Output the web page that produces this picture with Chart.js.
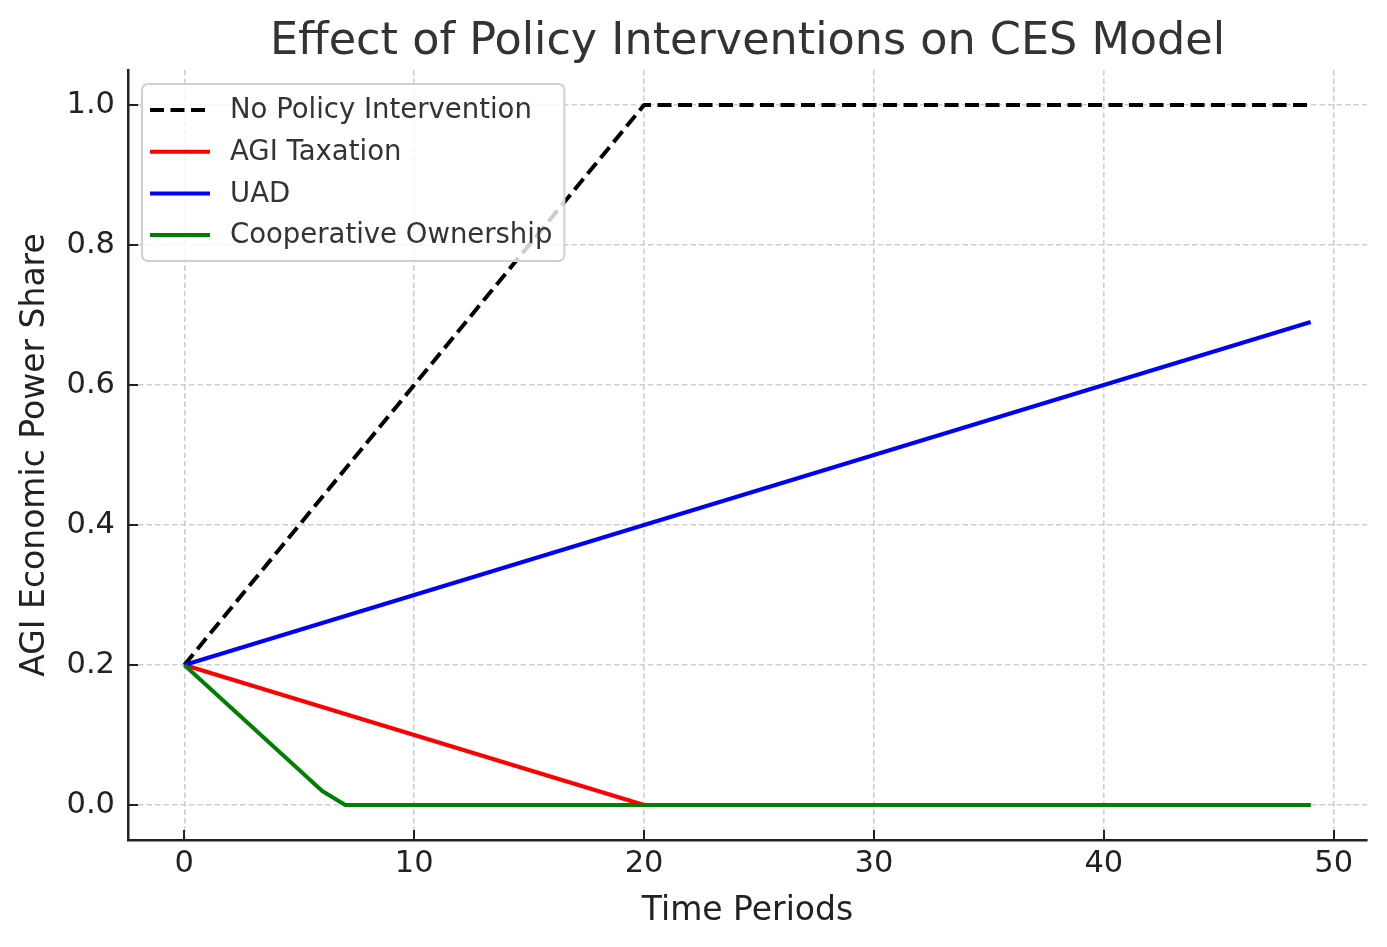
<!DOCTYPE html>
<html>
<head>
<meta charset="utf-8">
<title>Effect of Policy Interventions on CES Model</title>
<script src="https://cdn.jsdelivr.net/npm/chart.js@4.4.1/dist/chart.umd.min.js"></script>
<style>
  html, body { margin: 0; padding: 0; background: #fff; }
  canvas { display: block; }
</style>
</head>
<body>
<canvas id="cesChart" width="1387" height="947" style="width:1387px;height:947px"></canvas>
<script>
/*
-------------------------------------
/// data
-------------------------------------
*/
const periods = [0, 1, 2, 3, 4, 5, 6, 7, 8, 9, 10, 11, 12, 13, 14, 15, 16, 17, 18, 19,
  20, 21, 22, 23, 24, 25, 26, 27, 28, 29, 30, 31, 32, 33, 34, 35, 36, 37, 38, 39,
  40, 41, 42, 43, 44, 45, 46, 47, 48, 49];

const noPolicy = [0.20, 0.24, 0.28, 0.32, 0.36, 0.40, 0.44, 0.48, 0.52, 0.56,
  0.60, 0.64, 0.68, 0.72, 0.76, 0.80, 0.84, 0.88, 0.92, 0.96,
  1.00, 1.00, 1.00, 1.00, 1.00, 1.00, 1.00, 1.00, 1.00, 1.00,
  1.00, 1.00, 1.00, 1.00, 1.00, 1.00, 1.00, 1.00, 1.00, 1.00,
  1.00, 1.00, 1.00, 1.00, 1.00, 1.00, 1.00, 1.00, 1.00, 1.00];

const agiTaxation = [0.20, 0.19, 0.18, 0.17, 0.16, 0.15, 0.14, 0.13, 0.12, 0.11,
  0.10, 0.09, 0.08, 0.07, 0.06, 0.05, 0.04, 0.03, 0.02, 0.01,
  0, 0, 0, 0, 0, 0, 0, 0, 0, 0,
  0, 0, 0, 0, 0, 0, 0, 0, 0, 0,
  0, 0, 0, 0, 0, 0, 0, 0, 0, 0];

const uad = [0.20, 0.21, 0.22, 0.23, 0.24, 0.25, 0.26, 0.27, 0.28, 0.29,
  0.30, 0.31, 0.32, 0.33, 0.34, 0.35, 0.36, 0.37, 0.38, 0.39,
  0.40, 0.41, 0.42, 0.43, 0.44, 0.45, 0.46, 0.47, 0.48, 0.49,
  0.50, 0.51, 0.52, 0.53, 0.54, 0.55, 0.56, 0.57, 0.58, 0.59,
  0.60, 0.61, 0.62, 0.63, 0.64, 0.65, 0.66, 0.67, 0.68, 0.69];

const coopOwnership = [0.20, 0.17, 0.14, 0.11, 0.08, 0.05, 0.02, 0, 0, 0,
  0, 0, 0, 0, 0, 0, 0, 0, 0, 0,
  0, 0, 0, 0, 0, 0, 0, 0, 0, 0,
  0, 0, 0, 0, 0, 0, 0, 0, 0, 0,
  0, 0, 0, 0, 0, 0, 0, 0, 0, 0];

const xTicks = [0, 10, 20, 30, 40, 50];
const yTicks = [0, 0.2, 0.4, 0.6, 0.8, 1.0];

const seriesNames = ['No Policy Intervention', 'AGI Taxation', 'UAD', 'Cooperative Ownership'];
const chartTitle = 'Effect of Policy Interventions on CES Model';

/*
-------------------------------------
/// helpers
-------------------------------------
*/
const FONT = "'DejaVu Sans', sans-serif";

function toPoints(values){
  return periods.map((p, i) => ({ x: p, y: values[i] }));
}

function makeSeries(label, values, color, dash, order){
  return {
    label: label,
    data: toPoints(values),
    borderColor: color,
    backgroundColor: color,
    borderWidth: 4,
    borderDash: dash,
    borderCapStyle: 'butt',
    borderJoinStyle: 'round',
    pointRadius: 0,
    tension: 0,
    fill: false,
    order: order
  };
}

/*
-------------------------------------
/// title centred over the plot area
-------------------------------------
*/
const plotTitle = {
  id: 'plotTitle',
  afterDraw(chart){
    const ctx = chart.ctx;
    const area = chart.chartArea;
    ctx.save();
    ctx.font = '44.5px ' + FONT;
    ctx.fillStyle = '#333';
    ctx.textAlign = 'center';
    ctx.textBaseline = 'alphabetic';
    ctx.fillText(chartTitle, (area.left + area.right) / 2, 54);
    ctx.restore();
  }
};

/*
-------------------------------------
/// inward tick marks (matplotlib style)
-------------------------------------
*/
const innerTicks = {
  id: 'innerTicks',
  afterDraw(chart){
    const ctx = chart.ctx;
    const area = chart.chartArea;
    const xs = chart.scales.x;
    const ys = chart.scales.y;
    ctx.save();
    ctx.strokeStyle = '#222';
    ctx.lineWidth = 2;
    xTicks.forEach(v => {
      const px = Math.round(xs.getPixelForValue(v));
      ctx.beginPath();
      ctx.moveTo(px, area.bottom);
      ctx.lineTo(px, area.bottom - 10);
      ctx.stroke();
    });
    yTicks.forEach(v => {
      const py = Math.round(ys.getPixelForValue(v));
      ctx.beginPath();
      ctx.moveTo(area.left, py);
      ctx.lineTo(area.left + 10, py);
      ctx.stroke();
    });
    ctx.restore();
  }
};

/*
-------------------------------------
/// legend box in the upper left corner
-------------------------------------
*/
const boxLegend = {
  id: 'boxLegend',
  afterDraw(chart){
    const ctx = chart.ctx;
    const area = chart.chartArea;
    const sets = chart.data.datasets;
    const x0 = area.left + 14;
    const y0 = area.top + 14;
    const rowH = 41.7;

    ctx.save();
    ctx.font = '27.5px ' + FONT;
    let maxW = 0;
    sets.forEach(ds => { maxW = Math.max(maxW, ctx.measureText(ds.label).width); });
    const w = 88 + maxW + 12;
    const h = 177;

    ctx.beginPath();
    ctx.roundRect(x0, y0, w, h, 6);
    ctx.fillStyle = 'rgba(255,255,255,0.8)';
    ctx.fill();
    ctx.strokeStyle = '#d0d0d0';
    ctx.lineWidth = 2;
    ctx.stroke();

    sets.forEach((ds, i) => {
      const cy = y0 + 26 + i * rowH;
      ctx.beginPath();
      ctx.setLineDash(ds.borderDash || []);
      ctx.strokeStyle = ds.borderColor;
      ctx.lineWidth = ds.borderWidth;
      ctx.moveTo(x0 + 8, cy);
      ctx.lineTo(x0 + 68, cy);
      ctx.stroke();
      ctx.setLineDash([]);
      ctx.fillStyle = '#333';
      ctx.textBaseline = 'middle';
      ctx.textAlign = 'left';
      ctx.fillText(ds.label, x0 + 88, cy + 1);
    });
    ctx.restore();
  }
};

/*
-------------------------------------
/// chart
-------------------------------------
*/
const gridDash = [5.5, 3];

const ctx = document.getElementById('cesChart').getContext('2d');
const cesChart = new Chart(ctx, {
  type: 'line',
  data: {
    datasets: [
      makeSeries(seriesNames[0], noPolicy, '#000000', [14, 6.5], 4),
      makeSeries(seriesNames[1], agiTaxation, '#ff0000', [], 3),
      makeSeries(seriesNames[2], uad, '#0000ff', [], 2),
      makeSeries(seriesNames[3], coopOwnership, '#008000', [], 1)
    ]
  },
  options: {
    responsive: false,
    animation: false,
    devicePixelRatio: 1,
    layout: { padding: { left: 0, right: 20, top: 70, bottom: 0 } },
    plugins: {
      legend: { display: false },
      tooltip: { enabled: false },
      title: { display: false }
    },
    scales: {
      x: {
        type: 'linear',
        min: -2.45,
        max: 51.45,
        afterBuildTicks: scale => { scale.ticks = xTicks.map(v => ({ value: v })); },
        afterFit: scale => { scale.height = 107; },
        ticks: {
          color: '#222',
          font: { family: FONT, size: 30.5 },
          padding: 6,
          maxRotation: 0,
          callback: v => String(v)
        },
        grid: { color: '#cfcfcf', lineWidth: 1.6, drawTicks: false },
        border: { display: true, color: '#222', width: 2.5, dash: gridDash },
        title: {
          display: true,
          text: 'Time Periods',
          color: '#222',
          font: { family: FONT, size: 33 },
          padding: { top: 0, bottom: 16 }
        }
      },
      y: {
        type: 'linear',
        min: -0.05,
        max: 1.05,
        afterBuildTicks: scale => { scale.ticks = yTicks.map(v => ({ value: v })); },
        afterFit: scale => { scale.width = 128; },
        ticks: {
          color: '#222',
          font: { family: FONT, size: 30.5 },
          padding: 13,
          callback: v => v.toFixed(1)
        },
        grid: { color: '#cfcfcf', lineWidth: 1.6, drawTicks: false },
        border: { display: true, color: '#222', width: 2.5, dash: gridDash },
        title: {
          display: true,
          text: 'AGI Economic Power Share',
          color: '#222',
          font: { family: FONT, size: 33 },
          padding: { top: 16, bottom: 0 }
        }
      }
    }
  },
  plugins: [innerTicks, boxLegend, plotTitle]
});
</script>
</body>
</html>
